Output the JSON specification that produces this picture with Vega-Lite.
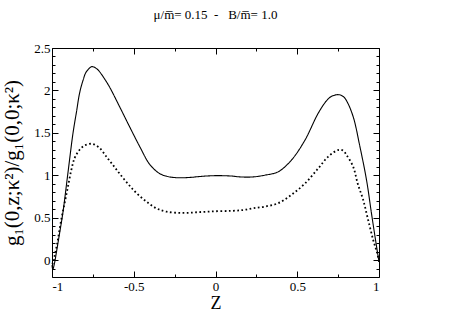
{
  "$schema": "https://vega.github.io/schema/vega-lite/v6.json",
  "width": 327,
  "height": 229,
  "autosize": "none",
  "padding": {"left": 52, "top": 48, "right": 84, "bottom": 50},
  "background": "white",
  "title": {"text": "μ/m̅=\u00a00.15\u00a0\u00a0-\u00a0\u00a0\u00a0B/m̅=\u00a01.0", "font": "Times New Roman, Liberation Serif, serif", "fontSize": 13, "fontWeight": "normal", "color": "black", "offset": 20, "anchor": "middle"},
  "data": {"values": [
    {"z": -1.0, "g": -0.06, "s": "solid"},
    {"z": -0.995, "g": -0.11, "s": "solid"},
    {"z": -0.985, "g": -0.04, "s": "solid"},
    {"z": -0.974, "g": 0.08, "s": "solid"},
    {"z": -0.955, "g": 0.3, "s": "solid"},
    {"z": -0.934, "g": 0.55, "s": "solid"},
    {"z": -0.903, "g": 1.02, "s": "solid"},
    {"z": -0.872, "g": 1.49, "s": "solid"},
    {"z": -0.85, "g": 1.75, "s": "solid"},
    {"z": -0.831, "g": 1.97, "s": "solid"},
    {"z": -0.81, "g": 2.12, "s": "solid"},
    {"z": -0.79, "g": 2.22, "s": "solid"},
    {"z": -0.756, "g": 2.28, "s": "solid"},
    {"z": -0.73, "g": 2.26, "s": "solid"},
    {"z": -0.709, "g": 2.22, "s": "solid"},
    {"z": -0.68, "g": 2.14, "s": "solid"},
    {"z": -0.648, "g": 2.04, "s": "solid"},
    {"z": -0.587, "g": 1.81, "s": "solid"},
    {"z": -0.525, "g": 1.57, "s": "solid"},
    {"z": -0.464, "g": 1.34, "s": "solid"},
    {"z": -0.403, "g": 1.13, "s": "solid"},
    {"z": -0.342, "g": 1.02, "s": "solid"},
    {"z": -0.28, "g": 0.98, "s": "solid"},
    {"z": -0.22, "g": 0.97, "s": "solid"},
    {"z": -0.15, "g": 0.975, "s": "solid"},
    {"z": -0.097, "g": 0.985, "s": "solid"},
    {"z": 0.0, "g": 0.995, "s": "solid"},
    {"z": 0.1, "g": 0.99, "s": "solid"},
    {"z": 0.15, "g": 0.98, "s": "solid"},
    {"z": 0.23, "g": 0.98, "s": "solid"},
    {"z": 0.3, "g": 1.0, "s": "solid"},
    {"z": 0.383, "g": 1.04, "s": "solid"},
    {"z": 0.465, "g": 1.18, "s": "solid"},
    {"z": 0.546, "g": 1.41, "s": "solid"},
    {"z": 0.628, "g": 1.73, "s": "solid"},
    {"z": 0.68, "g": 1.88, "s": "solid"},
    {"z": 0.71, "g": 1.93, "s": "solid"},
    {"z": 0.75, "g": 1.95, "s": "solid"},
    {"z": 0.78, "g": 1.93, "s": "solid"},
    {"z": 0.801, "g": 1.88, "s": "solid"},
    {"z": 0.842, "g": 1.69, "s": "solid"},
    {"z": 0.883, "g": 1.34, "s": "solid"},
    {"z": 0.924, "g": 0.94, "s": "solid"},
    {"z": 0.954, "g": 0.55, "s": "solid"},
    {"z": 0.985, "g": 0.16, "s": "solid"},
    {"z": 1.0, "g": -0.02, "s": "solid"},
    {"z": -1.0, "g": -0.03, "s": "dotted"},
    {"z": -0.992, "g": -0.04, "s": "dotted"},
    {"z": -0.985, "g": 0.04, "s": "dotted"},
    {"z": -0.975, "g": 0.13, "s": "dotted"},
    {"z": -0.964, "g": 0.24, "s": "dotted"},
    {"z": -0.944, "g": 0.47, "s": "dotted"},
    {"z": -0.923, "g": 0.67, "s": "dotted"},
    {"z": -0.903, "g": 0.86, "s": "dotted"},
    {"z": -0.882, "g": 1.06, "s": "dotted"},
    {"z": -0.862, "g": 1.2, "s": "dotted"},
    {"z": -0.831, "g": 1.3, "s": "dotted"},
    {"z": -0.801, "g": 1.35, "s": "dotted"},
    {"z": -0.756, "g": 1.37, "s": "dotted"},
    {"z": -0.709, "g": 1.32, "s": "dotted"},
    {"z": -0.668, "g": 1.22, "s": "dotted"},
    {"z": -0.627, "g": 1.12, "s": "dotted"},
    {"z": -0.587, "g": 1.02, "s": "dotted"},
    {"z": -0.536, "g": 0.9, "s": "dotted"},
    {"z": -0.484, "g": 0.79, "s": "dotted"},
    {"z": -0.423, "g": 0.69, "s": "dotted"},
    {"z": -0.362, "g": 0.61, "s": "dotted"},
    {"z": -0.3, "g": 0.57, "s": "dotted"},
    {"z": -0.2, "g": 0.555, "s": "dotted"},
    {"z": -0.1, "g": 0.565, "s": "dotted"},
    {"z": 0.0, "g": 0.575, "s": "dotted"},
    {"z": 0.1, "g": 0.58, "s": "dotted"},
    {"z": 0.17, "g": 0.59, "s": "dotted"},
    {"z": 0.23, "g": 0.61, "s": "dotted"},
    {"z": 0.3, "g": 0.63, "s": "dotted"},
    {"z": 0.383, "g": 0.67, "s": "dotted"},
    {"z": 0.465, "g": 0.77, "s": "dotted"},
    {"z": 0.546, "g": 0.9, "s": "dotted"},
    {"z": 0.628, "g": 1.08, "s": "dotted"},
    {"z": 0.69, "g": 1.22, "s": "dotted"},
    {"z": 0.754, "g": 1.3, "s": "dotted"},
    {"z": 0.78, "g": 1.29, "s": "dotted"},
    {"z": 0.801, "g": 1.24, "s": "dotted"},
    {"z": 0.842, "g": 1.1, "s": "dotted"},
    {"z": 0.87, "g": 0.9, "s": "dotted"},
    {"z": 0.903, "g": 0.71, "s": "dotted"},
    {"z": 0.934, "g": 0.47, "s": "dotted"},
    {"z": 0.964, "g": 0.24, "s": "dotted"},
    {"z": 0.989, "g": 0.08, "s": "dotted"},
    {"z": 1.0, "g": -0.02, "s": "dotted"}
  ]},
  "config": {
    "view": {"stroke": "black", "strokeWidth": 1},
    "axis": {"grid": false, "domain": false, "tickColor": "black", "labelFont": "Times New Roman, Liberation Serif, serif", "titleFont": "Times New Roman, Liberation Serif, serif", "labelColor": "black", "titleColor": "black", "labelFontSize": 13, "titleFontWeight": "normal"}
  },
  "layer": [
    {
      "mark": {"type": "line", "color": "black", "interpolate": "catmull-rom", "strokeCap": "butt"},
      "encoding": {
        "x": {"field": "z", "type": "quantitative", "scale": {"domain": [-1, 1], "nice": false, "zero": false},
          "axis": {"orient": "bottom", "values": [-1, -0.5, 0, 0.5, 1], "tickSize": -6, "labelPadding": 9, "labelExpr": "'' + datum.value", "title": "Z", "titleFontSize": 18, "titlePadding": 1}},
        "y": {"field": "g", "type": "quantitative", "scale": {"domain": [-0.2, 2.5], "nice": false, "zero": false},
          "axis": {"orient": "left", "values": [0, 0.5, 1, 1.5, 2, 2.5], "tickSize": -6, "labelPadding": 8, "labelExpr": "'' + datum.value", "title": "g₁(0,z;κ²)/g₁(0,0;κ²)", "titleFontSize": 21, "titlePadding": 11}},
        "strokeDash": {"field": "s", "type": "nominal", "scale": {"domain": ["solid", "dotted"], "range": [[1, 0], [1.7, 2.5]]}, "legend": null},
        "strokeWidth": {"field": "s", "type": "nominal", "scale": {"domain": ["solid", "dotted"], "range": [1.1, 1.8]}, "legend": null},
        "detail": {"field": "s"}
      }
    },
    {
      "mark": {"type": "line", "opacity": 0},
      "encoding": {
        "x": {"field": "z", "type": "quantitative", "axis": {"orient": "top", "values": [-1, -0.5, 0, 0.5, 1], "tickSize": -6, "labels": false, "title": null}},
        "y": {"field": "g", "type": "quantitative", "axis": {"orient": "right", "values": [0, 0.5, 1, 1.5, 2, 2.5], "tickSize": -6, "labels": false, "title": null}}
      }
    },
    {
      "mark": {"type": "line", "opacity": 0},
      "encoding": {
        "x": {"field": "z", "type": "quantitative", "axis": {"orient": "bottom", "values": [-0.75, -0.25, 0.25, 0.75], "tickSize": -3, "labels": false, "title": null}},
        "y": {"field": "g", "type": "quantitative", "axis": {"orient": "left", "values": [-0.1, 0.1, 0.2, 0.3, 0.4, 0.6, 0.7, 0.8, 0.9, 1.1, 1.2, 1.3, 1.4, 1.6, 1.7, 1.8, 1.9, 2.1, 2.2, 2.3, 2.4], "tickSize": -3, "labels": false, "title": null}}
      }
    },
    {
      "mark": {"type": "line", "opacity": 0},
      "encoding": {
        "x": {"field": "z", "type": "quantitative", "axis": {"orient": "top", "values": [-0.75, -0.25, 0.25, 0.75], "tickSize": -3, "labels": false, "title": null}},
        "y": {"field": "g", "type": "quantitative", "axis": {"orient": "right", "values": [-0.1, 0.1, 0.2, 0.3, 0.4, 0.6, 0.7, 0.8, 0.9, 1.1, 1.2, 1.3, 1.4, 1.6, 1.7, 1.8, 1.9, 2.1, 2.2, 2.3, 2.4], "tickSize": -3, "labels": false, "title": null}}
      }
    }
  ],
  "resolve": {"axis": {"x": "independent", "y": "independent"}}
}
